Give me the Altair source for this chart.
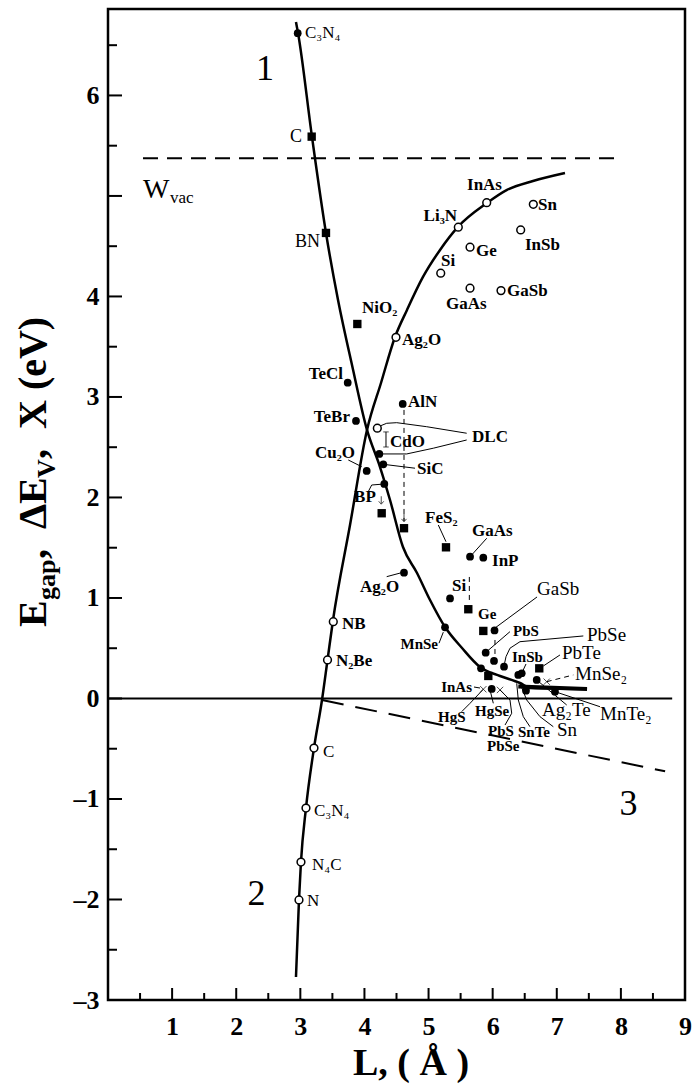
import altair as alt
import pandas as pd

SERIF = "Liberation Serif"
W, H = 577, 991

# ---------------- axes ----------------
x_tick_labels = [1, 2, 3, 4, 5, 6, 7, 8, 9]
y_tick_labels = [6, 4, 3, 2, 1, 0, -1, -2, -3]
x_major_ticks = [1, 2, 3, 4, 5, 6, 7, 8]
x_minor_ticks = [0.5, 1.5, 2.5, 3.5, 4.5, 5.5, 6.5, 7.5, 8.5]
y_major_ticks = [-2, -1, 0, 1, 2, 3, 4, 5, 6]
y_minor_ticks = [-2.5, -1.5, -0.5, 0.5, 1.5, 2.5, 3.5, 4.5, 5.5, 6.5]

# ---------------- curves (L in Å, E in eV) ----------------
curve1_L = [2.932, 2.964, 3.182, 3.400, 3.588, 3.806, 4.040, 4.243, 4.399, 4.601,
            4.820, 5.023, 5.257, 5.522, 5.803, 6.115, 6.426, 6.582, 7.472]
curve1_E = [6.731, 6.622, 5.587, 4.632, 3.965, 3.318, 2.672, 2.303, 1.975, 1.507,
            1.249, 0.980, 0.711, 0.502, 0.313, 0.224, 0.154, 0.104, 0.095]
flat1_L = [6.40, 7.472]
flat1_E = [0.12, 0.095]

curve2_L = [2.932, 2.979, 3.010, 3.088, 3.213, 3.338, 3.424, 3.510, 3.775, 4.040,
            4.258, 4.477, 4.664, 4.913, 5.179, 5.459, 5.912, 6.224, 6.629, 7.128]
curve2_E = [-2.771, -2.005, -1.627, -1.090, -0.493, -0.015, 0.383, 0.781, 1.726, 2.672,
            3.139, 3.597, 3.866, 4.194, 4.463, 4.692, 4.930, 5.060, 5.149, 5.229]

line3_L = [3.338, 8.69]
line3_E = [-0.015, -0.725]

wvac_L = [0.546, 7.986]
wvac_E = [5.375]

zero_L = [0.0, 8.80]

# ---------------- markers ----------------
open_L = [3.213, 3.088, 3.010, 2.979, 3.424, 3.514, 5.907, 5.464, 6.634, 6.437,
          5.647, 5.190, 5.647, 6.130, 4.492, 4.201]
open_E = [-0.493, -1.090, -1.627, -2.005, 0.383, 0.764, 4.933, 4.689, 4.917, 4.662,
          4.490, 4.231, 4.082, 4.058, 3.594, 2.689]

dot_L = [2.959, 3.739, 3.868, 4.597, 4.232, 4.294, 4.035, 4.310, 5.647, 5.854,
         4.617, 5.335, 5.257, 6.029, 5.891, 6.021, 6.177, 5.818, 5.985, 6.400,
         6.453, 6.687, 6.520, 6.972]
dot_E = [6.619, 3.142, 2.761, 2.930, 2.433, 2.330, 2.264, 2.134, 1.411, 1.401,
         1.252, 0.995, 0.708, 0.677, 0.456, 0.373, 0.316, 0.300, 0.095, 0.234,
         0.251, 0.184, 0.078, 0.068]

sq_L = [3.177, 3.400, 3.889, 4.269, 4.617, 5.272, 5.620, 5.854, 5.932, 6.727]
sq_E = [5.590, 4.632, 3.726, 1.843, 1.694, 1.504, 0.888, 0.672, 0.224, 0.300]

cross_L = [5.854, 6.115, 6.843]
cross_E = [0.092, 0.085, 0.167]

cdo_bar_L = [4.336]
cdo_bar_E = [2.652]
cdo_bar_E2 = [2.502]

arrow_L = [4.262, 4.617]
arrow_E = [1.965, 1.790]

# ---------------- labels ----------------
labA_text = ["InAs", "Sn", "InSb", "Ge", "Si", "GaAs", "GaSb", "NiO₂", "Ag₂O", "AlN",
             "DLC", "CdO", "Cu₂O", "SiC", "BP", "FeS₂", "GaAs", "InP", "Ag₂O", "Si",
             "NB", "N₂Be"]
labA_L = [5.600, 6.707, 6.504, 5.740, 5.194, 5.272, 6.224, 3.962, 4.586, 4.680,
          5.678, 4.399, 3.229, 4.820, 3.838, 4.945, 5.678, 5.990, 3.931, 5.366,
          3.650, 3.556]
labA_E = [5.060, 4.861, 4.463, 4.403, 4.303, 3.876, 4.005, 3.836, 3.517, 2.900,
          2.552, 2.502, 2.393, 2.234, 1.955, 1.746, 1.617, 1.318, 1.060, 1.070,
          0.692, 0.323]

labAR_text = ["Li₃N", "TeCl", "TeBr"]
labAR_L = [5.444, 3.666, 3.775]
labAR_E = [4.751, 3.179, 2.751]

labRR_text = ["C", "BN"]
labRR_L = [3.026, 3.307]
labRR_E = [5.537, 4.493]

labS_text = ["C₃N₄", "C", "C₃N₄", "N₄C", "N"]
labS_L = [3.073, 3.354, 3.213, 3.182, 3.104]
labS_E = [6.572, -0.582, -1.169, -1.706, -2.065]

labB_text = ["GaSb", "PbSe", "PbTe", "MnSe₂", "MnTe₂", "Ag₂Te", "Sn"]
labB_L = [6.692, 7.472, 7.082, 7.284, 7.674, 6.770, 7.004]
labB_E = [1.030, 0.572, 0.393, 0.184, -0.214, -0.174, -0.373]

labC_text = ["PbS", "InSb", "Ge", "HgS", "HgSe", "PbS", "SnTe", "PbSe"]
labC_L = [6.317, 6.302, 5.771, 5.147, 5.725, 5.927, 6.395, 5.912]
labC_E = [0.622, 0.363, 0.791, -0.234, -0.174, -0.373, -0.383, -0.522]

labCR_text = ["InAs", "MnSe"]
labCR_L = [5.678, 5.147]
labCR_E = [0.065, 0.493]

big_text = ["1", "2", "3"]
big_L = [2.449, 2.316, 8.119]
big_E = [6.154, -2.055, -1.159]

wvac_text_L = [0.546]
wvac_text_E = [4.980]
wvac_sub_L = [0.967]
wvac_sub_E = [4.930]

# ---------------- leader lines ----------------
leaders = [
    [[4.243, 2.711], [4.347, 2.738], [4.503, 2.744], [4.971, 2.704], [5.595, 2.639]],
    [[4.269, 2.433], [4.659, 2.433], [5.074, 2.490], [5.595, 2.572]],
    [[4.294, 2.330], [4.789, 2.291]],
    [[3.748, 2.373], [3.957, 2.306]],
    [[4.310, 2.134], [4.113, 2.124], [4.060, 2.058]],
    [[5.152, 1.726], [5.272, 1.560]],
    [[5.673, 1.428], [5.907, 1.594]],
    [[4.347, 1.212], [4.581, 1.252]],
    [[6.036, 0.701], [6.692, 1.010]],
    [[5.907, 0.466], [6.270, 0.665]],
    [[6.177, 0.323], [6.208, 0.416], [6.270, 0.500], [6.426, 0.565], [7.414, 0.622]],
    [[6.453, 0.251], [6.520, 0.343]],
    [[6.790, 0.323], [7.050, 0.433]],
    [[6.972, 0.068], [7.674, -0.082]],
    [[6.687, 0.184], [7.155, -0.065]],
    [[5.709, 0.114], [5.803, 0.104]],
    [[5.854, 0.092], [5.647, -0.048], [5.517, -0.131]],
    [[5.959, 0.085], [6.010, -0.048]],
    [[6.115, 0.085], [6.270, -0.015], [6.297, -0.147], [6.193, -0.264]],
    [[6.375, 0.151], [6.400, -0.015], [6.478, -0.181], [6.582, -0.281]],
    [[6.426, 0.151], [6.531, -0.015], [6.738, -0.181], [6.946, -0.281]],
    [[5.163, 0.550], [5.230, 0.660]],
]
dashed_leaders = [
    [[6.843, 0.167], [7.258, 0.234]],
    [[4.617, 2.871], [4.617, 1.766]],
    [[5.636, 1.209], [5.636, 0.950]],
    [[6.036, 0.582], [6.036, 0.416]],
]

# ---------------- scales / encodings ----------------
xscale = alt.Scale(domain=[0, 9], nice=False, zero=False)
yscale = alt.Scale(domain=[-3, 6.86], nice=False, zero=False)
axis_common = dict(title=None, grid=False, ticks=False, tickSize=0, domain=False,
                   labelFont=SERIF, labelFontSize=26, labelFontWeight="bold",
                   labelColor="black", labelOverlap=False, labelFlush=False)
xaxis = alt.Axis(values=x_tick_labels, labelPadding=13, **axis_common)
yaxis = alt.Axis(values=y_tick_labels, labelPadding=9,
                 labelExpr="datum.value < 0 ? '–' + abs(datum.value) : '' + datum.value",
                 **axis_common)


def X(f="L"):
    return alt.X(f"{f}:Q", scale=xscale, axis=xaxis)


def Y(f="E"):
    return alt.Y(f"{f}:Q", scale=yscale, axis=yaxis)


def poly_df(polys):
    rows = []
    for g, pts in enumerate(polys):
        for i, (l, e) in enumerate(pts):
            rows.append({"g": g, "i": i, "L": l, "E": e})
    return pd.DataFrame(rows)


def text_layer(texts, Ls, Es, size, weight="normal", align="left", baseline="alphabetic"):
    df = pd.DataFrame({"t": texts, "L": Ls, "E": Es})
    return alt.Chart(df).mark_text(align=align, baseline=baseline, font=SERIF,
                                   fontSize=size, fontWeight=weight, color="black"
                                   ).encode(x=X(), y=Y(), text="t:N")


layers = []

# inward ticks
layers.append(alt.Chart(pd.DataFrame({"E": y_major_ticks})).mark_rule(color="black", strokeWidth=2)
              .encode(y=Y(), x=alt.value(0), x2=alt.value(14)))
layers.append(alt.Chart(pd.DataFrame({"E": y_minor_ticks})).mark_rule(color="black", strokeWidth=2)
              .encode(y=Y(), x=alt.value(0), x2=alt.value(9)))
layers.append(alt.Chart(pd.DataFrame({"L": x_major_ticks})).mark_rule(color="black", strokeWidth=2)
              .encode(x=X(), y=alt.value(H), y2=alt.value(H - 12)))
layers.append(alt.Chart(pd.DataFrame({"L": x_minor_ticks})).mark_rule(color="black", strokeWidth=2)
              .encode(x=X(), y=alt.value(H), y2=alt.value(H - 7)))

# zero line and W_vac
layers.append(alt.Chart(pd.DataFrame({"L": [zero_L[0]], "L2": [zero_L[1]], "E": [0.0]}))
              .mark_rule(color="black", strokeWidth=2)
              .encode(x=X(), x2=alt.X2("L2:Q"), y=Y()))
layers.append(alt.Chart(pd.DataFrame({"L": [wvac_L[0]], "L2": [wvac_L[1]], "E": wvac_E}))
              .mark_rule(color="black", strokeWidth=2, strokeDash=[15, 9])
              .encode(x=X(), x2=alt.X2("L2:Q"), y=Y()))

# curves
layers.append(alt.Chart(pd.DataFrame({"L": curve1_L, "E": curve1_E}))
              .mark_line(color="black", strokeWidth=2.5, interpolate="monotone")
              .encode(x=X(), y=Y()))
layers.append(alt.Chart(pd.DataFrame({"L": flat1_L, "E": flat1_E}))
              .mark_line(color="black", strokeWidth=4)
              .encode(x=X(), y=Y()))
layers.append(alt.Chart(pd.DataFrame({"L": curve2_L, "E": curve2_E}))
              .mark_line(color="black", strokeWidth=2.5, interpolate="monotone")
              .encode(x=X(), y=Y()))
layers.append(alt.Chart(pd.DataFrame({"L": line3_L, "E": line3_E}))
              .mark_line(color="black", strokeWidth=2, strokeDash=[22, 12])
              .encode(x=X(), y=Y()))

# leaders
layers.append(alt.Chart(poly_df(leaders)).mark_line(color="black", strokeWidth=1)
              .encode(x=X(), y=Y(), detail="g:N", order="i:Q"))
layers.append(alt.Chart(poly_df(dashed_leaders)).mark_line(color="black", strokeWidth=1, strokeDash=[5, 4])
              .encode(x=X(), y=Y(), detail="g:N", order="i:Q"))

# CdO bar
layers.append(alt.Chart(pd.DataFrame({"L": cdo_bar_L, "E": cdo_bar_E, "E2": cdo_bar_E2}))
              .mark_rule(color="black", strokeWidth=1)
              .encode(x=X(), y=Y(), y2=alt.Y2("E2:Q")))
layers.append(alt.Chart(pd.DataFrame({"L": cdo_bar_L * 2, "E": cdo_bar_E + cdo_bar_E2}))
              .mark_point(shape="M-1,0L1,0", size=30, color="black", strokeWidth=1)
              .encode(x=X(), y=Y()))

# markers
layers.append(alt.Chart(pd.DataFrame({"L": open_L, "E": open_E}))
              .mark_point(shape="circle", size=60, fill="white", stroke="black",
                          strokeWidth=1.5, opacity=1, fillOpacity=1)
              .encode(x=X(), y=Y()))
layers.append(alt.Chart(pd.DataFrame({"L": dot_L, "E": dot_E}))
              .mark_circle(size=60, color="black", opacity=1)
              .encode(x=X(), y=Y()))
layers.append(alt.Chart(pd.DataFrame({"L": sq_L, "E": sq_E}))
              .mark_square(size=70, color="black", opacity=1)
              .encode(x=X(), y=Y()))
layers.append(alt.Chart(pd.DataFrame({"L": cross_L, "E": cross_E}))
              .mark_point(shape="M-1,-1L1,1M-1,1L1,-1", size=40, color="black", strokeWidth=1)
              .encode(x=X(), y=Y()))
# small down-arrows above the two squares
layers.append(alt.Chart(pd.DataFrame({"L": arrow_L, "E": arrow_E}))
              .mark_point(shape="M0,-1.5L0,1M-0.8,0.1L0,1L0.8,0.1", size=40, color="black",
                          strokeWidth=1, filled=False)
              .encode(x=X(), y=Y()))

# labels
layers.append(text_layer(labA_text, labA_L, labA_E, 17, "bold"))
layers.append(text_layer(labAR_text, labAR_L, labAR_E, 17, "bold", align="right"))
layers.append(text_layer(labRR_text, labRR_L, labRR_E, 18, "normal", align="right"))
layers.append(text_layer(labS_text, labS_L, labS_E, 17, "normal"))
layers.append(text_layer(labB_text, labB_L, labB_E, 19, "normal"))
layers.append(text_layer(labC_text, labC_L, labC_E, 15, "bold"))
layers.append(text_layer(labCR_text, labCR_L, labCR_E, 15, "bold", align="right"))
layers.append(text_layer(big_text, big_L, big_E, 36, "normal", align="center"))
layers.append(text_layer(["W"], wvac_text_L, wvac_text_E, 28, "normal"))
layers.append(text_layer(["vac"], wvac_sub_L, wvac_sub_E, 17, "normal"))

# axis titles (composite text for subscripts)
one = pd.DataFrame({"k": [0]})


def title_seg(text, size, dx, dy):
    return alt.Chart(one).mark_text(text=text, angle=270, align="left", baseline="alphabetic",
                                    font=SERIF, fontSize=size, fontWeight="bold",
                                    dx=dx, dy=dy, color="black"
                                    ).encode(x=alt.value(-62), y=alt.value(618))


layers.append(title_seg("E", 40, 0, 0))
layers.append(title_seg("gap", 26, 27, 9))
layers.append(title_seg(",\u00a0\u00a0ΔE", 40, 68, 0))
layers.append(title_seg("V", 26, 149, 9))
layers.append(title_seg(",\u00a0\u00a0X\u00a0(eV)", 40, 168, 0))

layers.append(alt.Chart(one).mark_text(text="L,\u00a0(\u00a0Å\u00a0)", align="center", baseline="alphabetic",
                                       font=SERIF, fontSize=38, fontWeight="bold", color="black")
              .encode(x=alt.value(303), y=alt.value(1066)))

chart = alt.layer(*layers).properties(
    width=W, height=H,
    padding={"left": 108, "top": 9, "right": 8, "bottom": 88},
    autosize=alt.AutoSizeParams(type="none"),
).configure(background="white").configure_view(stroke="black", strokeWidth=2.5)

chart.save("out.html", embed_options={"renderer": "svg", "actions": False})
